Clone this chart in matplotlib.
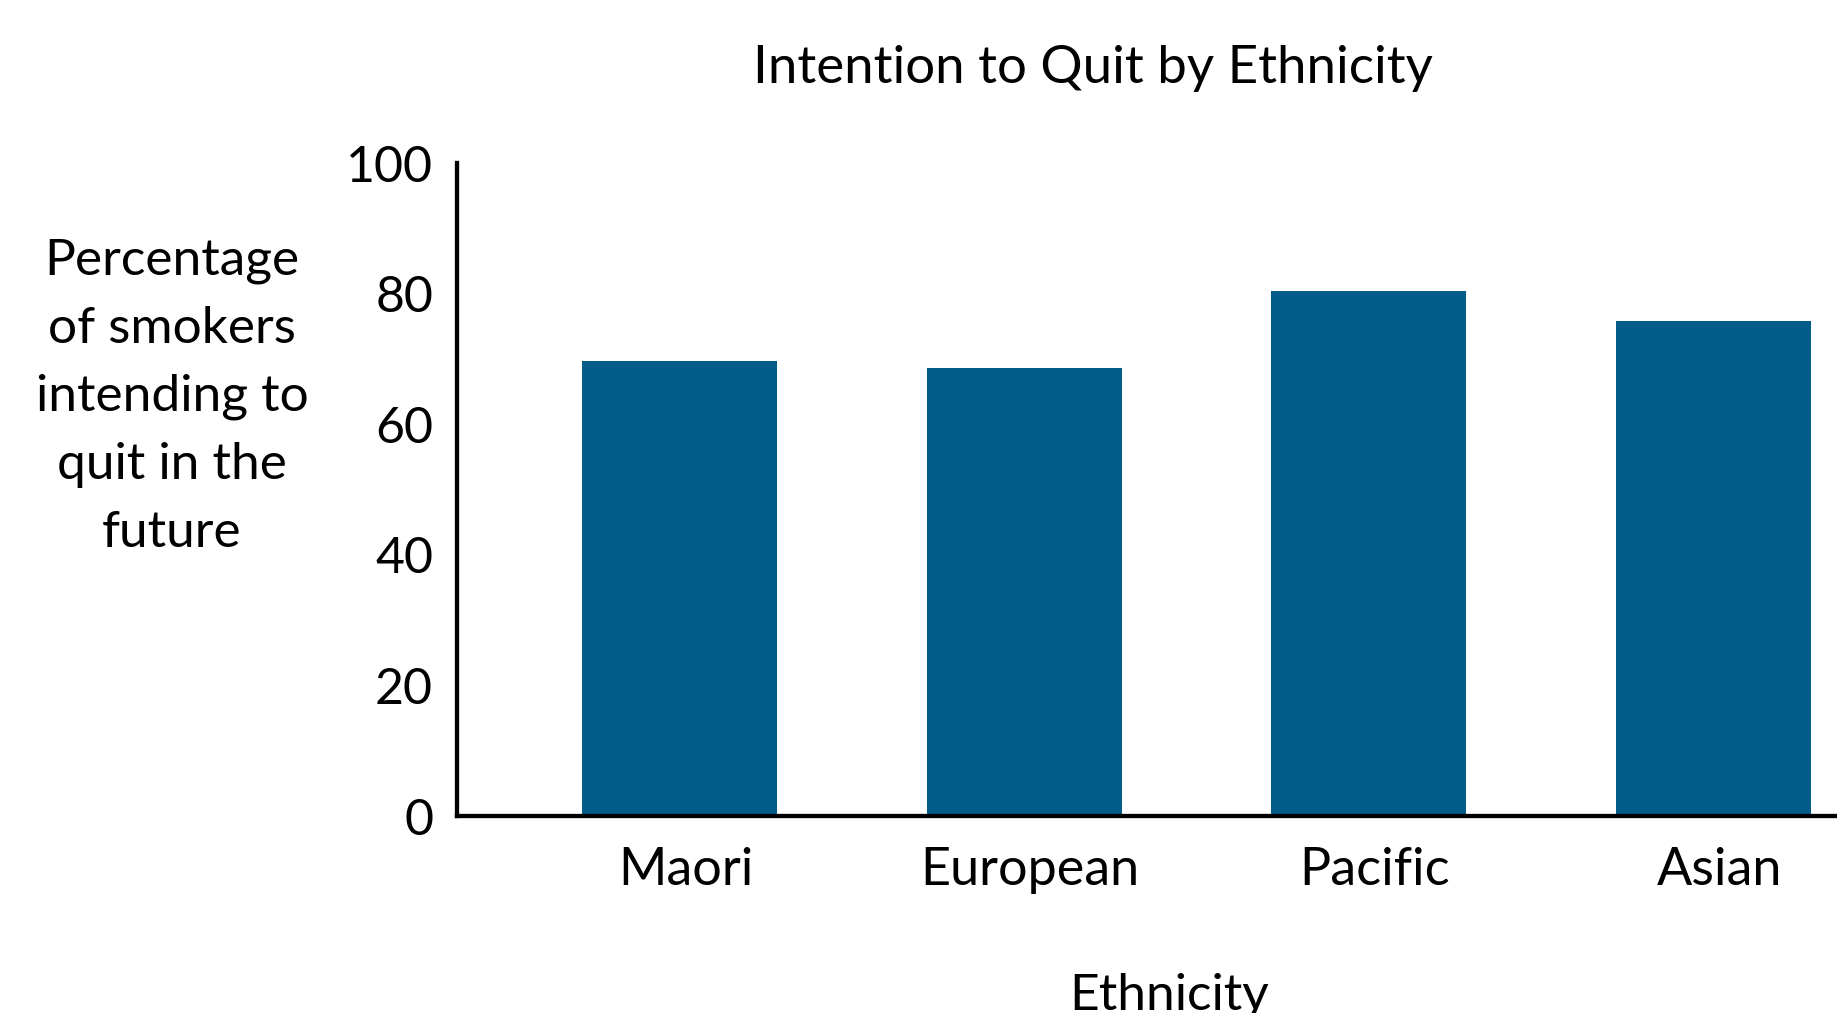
import matplotlib
matplotlib.use("Agg")
import matplotlib.pyplot as plt
from matplotlib.transforms import ScaledTranslation

categories = ["Maori", "European", "Pacific", "Asian"]
values = [69.7, 68.6, 80.4, 75.8]
yticks = [0, 20, 40, 60, 80, 100]

plt.rcParams['font.family'] = ['Lato', 'DejaVu Sans']

fig = plt.figure(figsize=(18.37, 10.13), dpi=100)
ax = fig.add_axes([456.7/1837, 1-816/1013, 1-456.7/1837, (816-163)/1013])

x = list(range(len(categories)))
ax.bar(x, values, width=0.566, color='#025C8A', zorder=2)
ax.set_xlim(-0.6466, 3.359)
ax.set_ylim(0, 100)
ax.set_yticks(yticks)
ax.set_yticklabels([str(t) for t in yticks])
ax.set_xticks(x)
ax.set_xticklabels(categories)
for s in ['top', 'right']:
    ax.spines[s].set_visible(False)
for s in ['left', 'bottom']:
    ax.spines[s].set_linewidth(3.1)
    ax.spines[s].set_zorder(3)
ax.tick_params(axis='y', length=0, labelsize=36, pad=17)
ax.tick_params(axis='x', length=0, labelsize=37.5, pad=22)
off = ScaledTranslation(6/100, 0, fig.dpi_scale_trans)
for lab in ax.get_xticklabels():
    lab.set_transform(lab.get_transform() + off)

fig.text(1093/1837, 1-69/1013, "Intention to Quit by Ethnicity", ha='center', va='center', fontsize=38)
fig.text(1169/1837, 1-996/1013, "Ethnicity", ha='center', va='center', fontsize=37)
fig.text(172/1837, 1-397/1013, "Percentage\nof smokers\nintending to\nquit in the\nfuture",
         ha='center', va='center', multialignment='center', fontsize=37, linespacing=1.585)

fig.savefig("out.png", dpi=100)
